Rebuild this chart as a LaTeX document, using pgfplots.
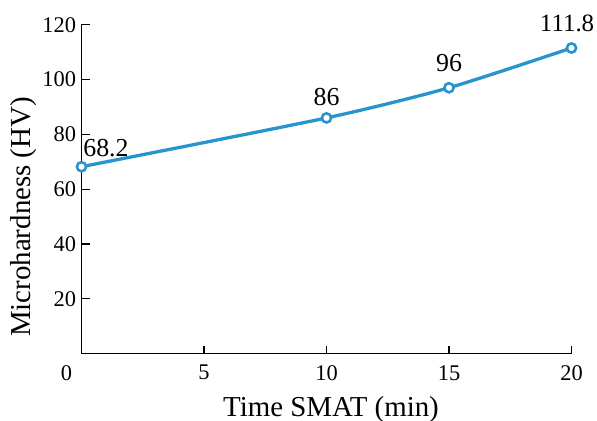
\documentclass[border=0pt]{standalone}
\usepackage{pgfplots}
\pgfplotsset{compat=1.18}
\usepackage{fontspec}
\setmainfont{Liberation Serif}
\definecolor{lineblue}{RGB}{40,148,205}
\begin{document}
\begin{tikzpicture}
\begin{axis}[
  width=490bp, height=329bp, scale only axis,
  xmin=0, xmax=20, ymin=0, ymax=120,
  axis x line*=bottom, axis y line*=left,
  axis line style={line width=1.2pt,-},
  tick align=inside,
  major tick length=8bp,
  tick style={line width=1.2pt, black},
  xtick={5,10,15,20},
  extra x ticks={0},
  extra x tick style={xticklabel style={xshift=-15bp}, major tick length=0pt},
  ytick={20,40,60,80,100,120},
  /pgf/number format/assume math mode=true,
  tick label style={font=\fontsize{22.5}{27}\selectfont},
  xticklabel style={yshift=-8bp},
  yticklabel style={xshift=-2bp},
  clip=false,
]
\addplot[lineblue, line width=3.3pt, smooth, tension=0.4,
  mark=*, mark options={fill=white, draw=lineblue, line width=2.6pt}, mark size=4.6bp]
  coordinates {(0,68.2) (10,86) (15,97) (20,111.5)};
\node[anchor=south, font=\fontsize{26}{31}\selectfont] at (axis cs:1,70.5) {68.2};
\node[anchor=south, font=\fontsize{26}{31}\selectfont] at (axis cs:10,89) {86};
\node[anchor=south, font=\fontsize{26}{31}\selectfont] at (axis cs:15,101.5) {96};
\node[anchor=south, font=\fontsize{25}{30}\selectfont] at (axis cs:19.82,116) {111.8};
\end{axis}
\node[rotate=90, font=\fontsize{29}{34}\selectfont] at (24bp-81.5bp,204bp-67.3bp) {Microhardness (HV)};
\node[anchor=base, font=\fontsize{29}{34}\selectfont] at (331bp-81.5bp,5bp-67.3bp) {Time SMAT (min)};
\pgfresetboundingbox
\path[use as bounding box] (-81.5bp,-67.3bp) rectangle (515.5bp,353.7bp);
\end{tikzpicture}
\end{document}
